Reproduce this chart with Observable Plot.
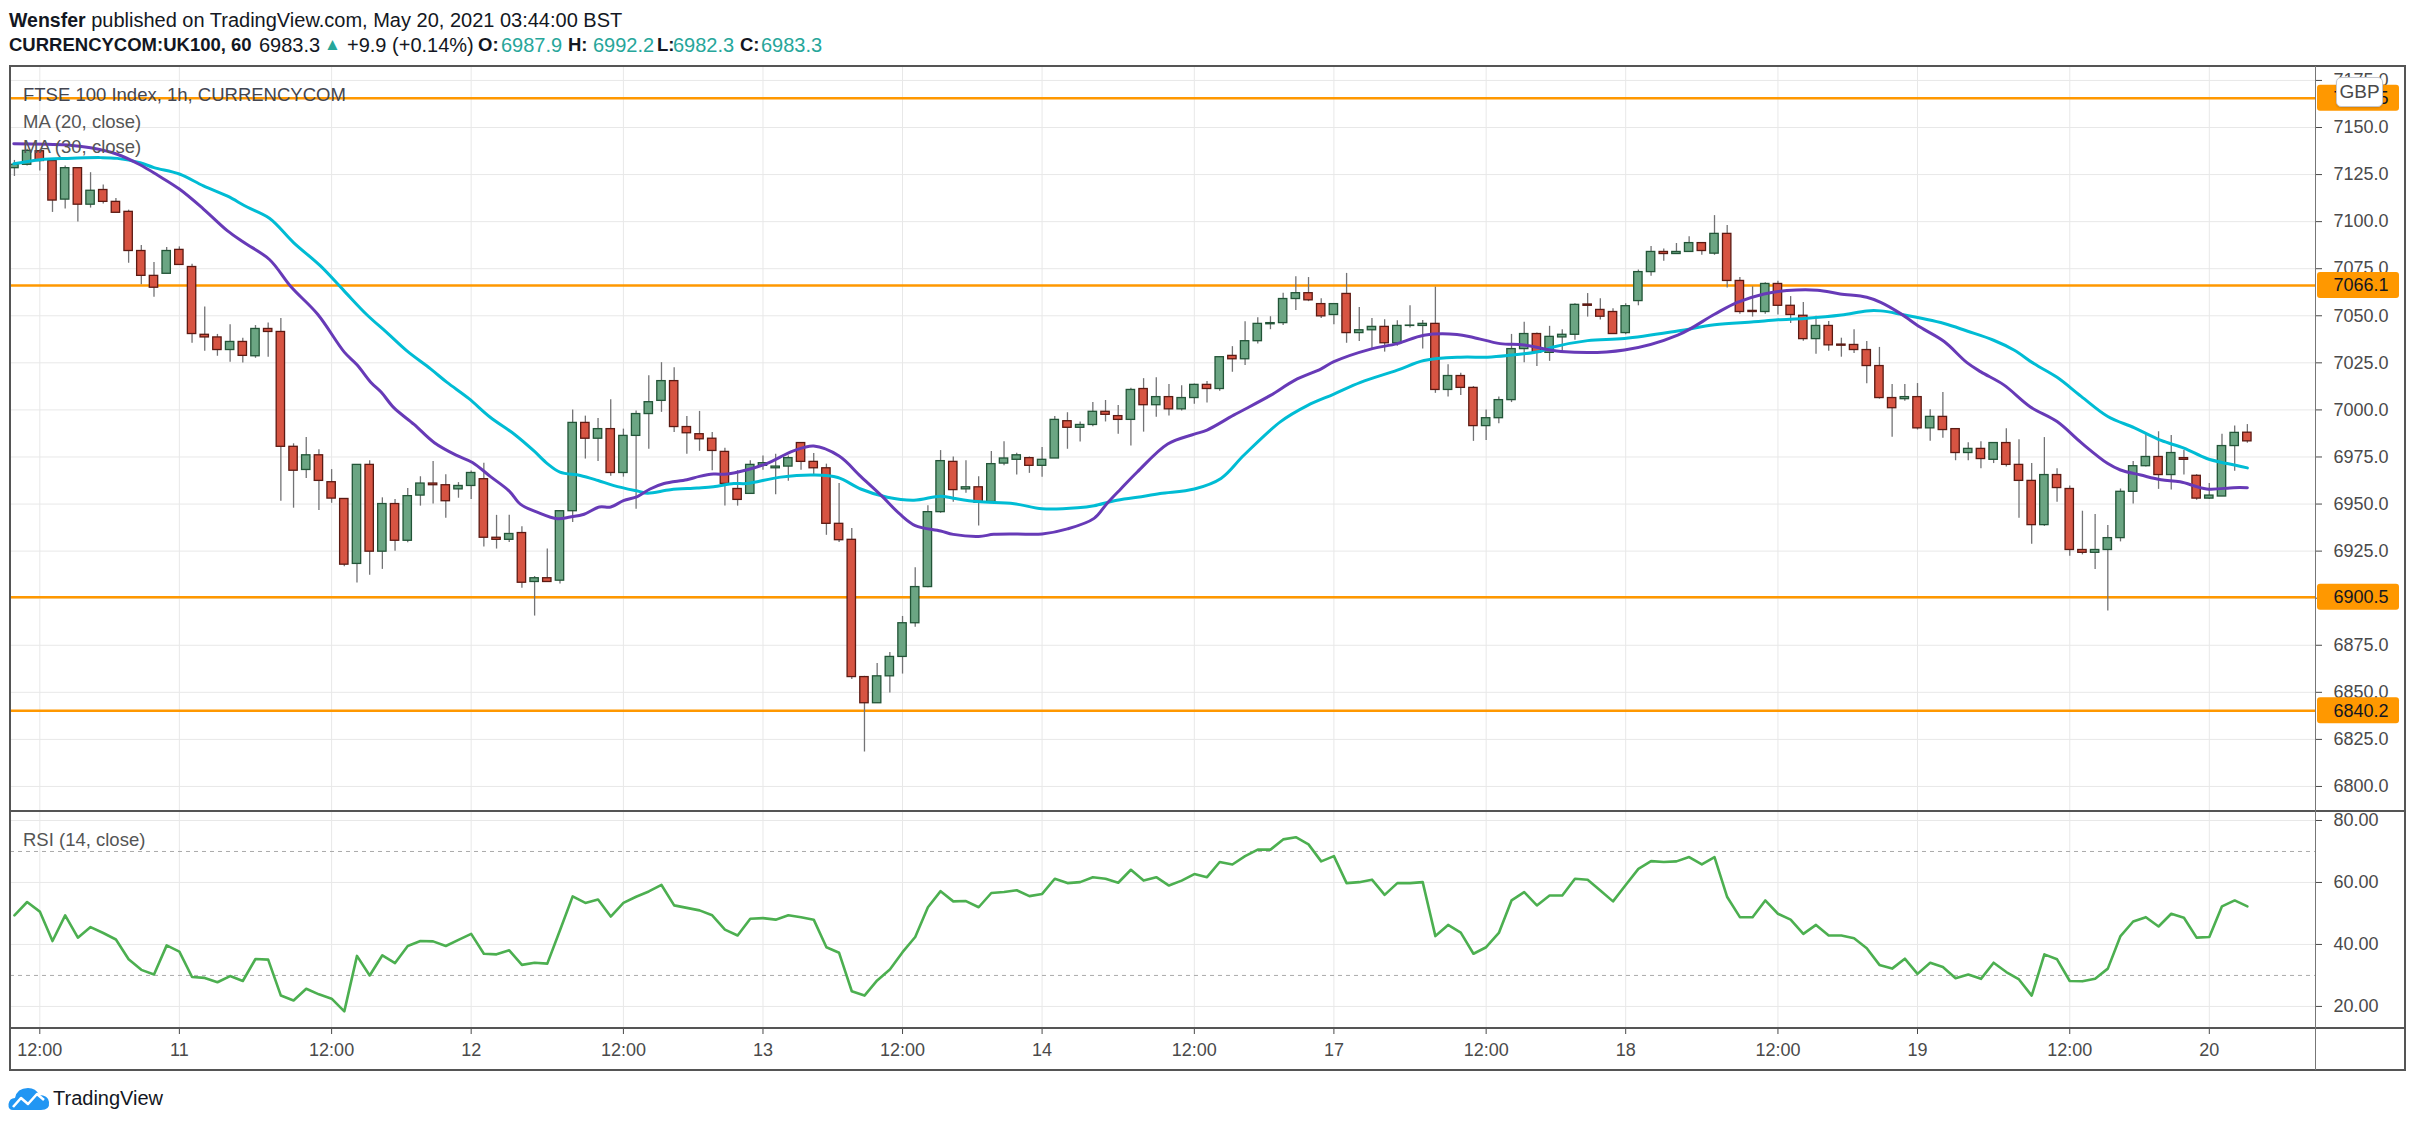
<!DOCTYPE html>
<html><head><meta charset="utf-8">
<script src="https://cdn.jsdelivr.net/npm/d3@7"></script>
<script src="https://cdn.jsdelivr.net/npm/@observablehq/plot@0.6"></script>
<style>
html,body{margin:0;padding:0;background:#fff;}
body{width:2415px;height:1128px;position:relative;overflow:hidden;font-family:"Liberation Sans",Arial,sans-serif;color:#131722;}
.abs{position:absolute;white-space:nowrap;}
#hdr1{left:9px;top:7px;font-size:20px;line-height:26px;}
#hdr1 b{font-size:19.5px;}
.h2{top:32px;font-size:20px;line-height:26px;}
.h2b{font-weight:bold;font-size:18.5px;}
.tl{color:#26a69a;}
.lg{font-size:18.5px;line-height:24px;color:#555;left:23px;}
#gbp{left:2336px;top:77px;width:45px;height:28px;border:1px solid #c3c6ce;border-radius:5px;background:#fff;font-size:19px;line-height:28px;text-align:center;color:#4a4a4a;box-shadow:0 1px 2px rgba(0,0,0,0.15);}
#main{left:10px;top:66px;}
#rsi{left:10px;top:811px;}
.ln{position:absolute;background:#555;}
</style></head>
<body>
<div id="hdr1" class="abs"><b>Wensfer</b> published on TradingView.com, May 20, 2021 03:44:00 BST</div>
<div class="abs h2 h2b" style="left:9px;">CURRENCYCOM:UK100, 60</div>
<div class="abs h2" style="left:259px;">6983.3</div>
<div class="abs h2 tl" style="left:324px;font-size:17px;">&#9650;</div>
<div class="abs h2" style="left:347px;">+9.9 (+0.14%)</div>
<div class="abs h2 h2b" style="left:478px;">O:</div>
<div class="abs h2 tl" style="left:501px;">6987.9</div>
<div class="abs h2 h2b" style="left:568px;">H:</div>
<div class="abs h2 tl" style="left:593px;">6992.2</div>
<div class="abs h2 h2b" style="left:657px;">L:</div>
<div class="abs h2 tl" style="left:673px;">6982.3</div>
<div class="abs h2 h2b" style="left:740px;">C:</div>
<div class="abs h2 tl" style="left:761px;">6983.3</div>
<div id="main" class="abs"></div>
<div id="rsi" class="abs"></div>
<div class="abs lg" style="top:83px;color:#434651">FTSE 100 Index, 1h, CURRENCYCOM</div>
<div class="abs lg" style="top:110px">MA (20, close)</div>
<div class="abs lg" style="top:135px">MA (30, close)</div>
<div class="abs lg" style="top:828px">RSI (14, close)</div>
<div id="gbp" class="abs">GBP</div>
<!-- frame lines -->
<div class="ln" style="left:9px;top:65px;width:2397px;height:2px;"></div>
<div class="ln" style="left:9px;top:1069px;width:2397px;height:2px;"></div>
<div class="ln" style="left:9px;top:65px;width:2px;height:1006px;"></div>
<div class="ln" style="left:2404px;top:65px;width:2px;height:1006px;"></div>
<div class="ln" style="left:10px;top:810px;width:2395px;height:2px;"></div>
<div class="ln" style="left:10px;top:1027px;width:2395px;height:1.5px;"></div>
<div class="ln" style="left:2315px;top:66px;width:1px;height:1004px;background:#777;"></div>
<div class="abs" style="left:8px;top:1087px;">
<svg width="42" height="24" viewBox="0 0 42 24"><path d="M5 23 Q0 23 0.5 17 Q1.5 11 7 11 Q9 1 20 1 Q28 1 31 8 Q40 8 41 15 Q42 23 33 23 Z" fill="#2196F3"/><polyline points="5,20 13,11 20,17 29,7 36,13" fill="none" stroke="#fff" stroke-width="2.6" stroke-linejoin="round"/></svg>
</div>
<div class="abs" style="left:53px;top:1085px;font-size:20px;line-height:26px;color:#131722;">TradingView</div>
<script>
// ---- data ----
const firstBar = -2; // first visible hourly bar (May 10, 10:00); bar 0 = May 10, 12:00
const open = [7128.4,7130.2,7137.4,7132.2,7111.7,7128.4,7109.0,7116.8,7110.5,7105.2,
7084.4,7071.2,7072.3,7085.0,7075.9,7039.9,7038.5,7031.8,7036.1,7028.5,
7043.0,7041.4,6980.4,6968.1,6975.9,6961.6,6952.7,6918.2,6970.8,6924.7,
6950.0,6930.5,6954.5,6960.9,6960.0,6957.8,6959.6,6963.2,6932.1,6931.0,
6934.6,6908.6,6910.6,6909.3,6946.2,6993.1,6984.7,6989.8,6966.5,6986.2,
6997.8,7004.8,7015.3,6990.9,6987.1,6984.7,6977.7,6958.0,6955.4,6970.3,
6969.0,6969.9,6982.4,6972.4,6969.0,6939.5,6931.0,6858.1,6844.2,6858.5,
6868.8,6886.7,6905.9,6945.7,6972.4,6957.8,6958.9,6951.1,6971.5,6973.5,
6974.4,6970.3,6974.2,6994.0,6990.5,6992.0,6999.0,6996.7,6994.7,7011.1,
7002.5,7006.8,7000.3,7006.3,7013.3,7011.1,7028.7,7026.9,7036.5,7045.5,
7046.1,7058.9,7062.0,7056.2,7050.4,7061.6,7040.8,7042.3,7044.1,7035.4,
7044.6,7044.6,7045.7,7010.6,7018.0,7011.7,6991.4,6995.6,7005.2,7032.3,
7040.3,7030.3,7038.5,7039.9,7056.0,7053.1,7052.0,7040.8,7057.8,7073.2,
7083.9,7082.8,7083.9,7088.6,7083.0,7093.5,7068.5,7052.6,7052.0,7066.9,
7055.3,7050.0,7037.6,7044.6,7034.7,7034.5,7031.8,7023.3,7006.3,7005.7,
7006.8,6990.2,6996.3,6989.8,6977.1,6979.3,6973.5,6982.4,6970.8,6962.3,
6938.8,6965.4,6958.0,6925.6,6924.1,6925.6,6931.9,6956.5,6970.1,6975.0,
6965.4,6974.4,6965.0,6952.9,6954.0,6980.8,6987.9];
const high = [7132.5,7138.5,7138.0,7133.5,7129.5,7128.4,7126.0,7119.5,7112.3,7106.1,
7087.3,7078.3,7086.2,7086.6,7077.4,7054.6,7040.1,7045.2,7038.1,7044.8,
7046.1,7048.6,6982.0,6985.3,6978.8,6968.3,6952.7,6970.8,6973.0,6953.3,
6952.4,6958.3,6964.5,6972.6,6965.6,6961.4,6967.5,6971.7,6944.0,6944.0,
6937.9,6911.5,6926.1,6946.2,6999.9,6996.7,6995.4,7005.4,6989.8,6999.4,
7018.2,7025.1,7022.4,6996.5,6999.2,6988.0,6979.7,6967.7,6973.0,6975.5,
6976.4,6975.5,6982.4,6976.8,6971.2,6960.9,6937.0,6858.5,6865.3,6871.1,
6890.3,6916.2,6949.1,6978.4,6975.0,6973.0,6964.5,6977.9,6983.1,6977.0,
6975.0,6980.0,6996.5,6998.5,6993.6,7003.9,7005.0,7002.3,7011.5,7016.6,
7017.1,7013.5,7012.8,7013.7,7015.1,7028.0,7033.6,7046.8,7049.0,7049.5,
7062.0,7070.7,7070.3,7059.1,7056.2,7072.5,7054.4,7048.6,7047.9,7047.3,
7055.3,7047.5,7065.2,7024.0,7019.5,7012.4,6999.9,7006.8,7040.1,7046.6,
7040.8,7044.4,7042.6,7056.4,7061.8,7059.1,7053.7,7056.4,7074.3,7086.8,
7085.5,7088.4,7092.0,7088.6,7103.2,7098.0,7070.3,7065.4,7067.6,7068.3,
7060.2,7057.1,7049.7,7047.0,7038.1,7042.6,7036.3,7033.2,7013.5,7013.5,
7014.0,7000.1,7009.3,6989.8,6982.6,6983.1,6982.4,6990.0,6984.2,6971.5,
6985.3,6968.8,6959.6,6946.2,6944.4,6938.6,6958.0,6972.6,6987.1,6988.4,
6986.4,6978.4,6965.6,6960.9,6987.1,6991.4,6992.2];
const low = [7124.0,7129.5,7126.9,7104.9,7106.7,7099.8,7107.2,7109.4,7104.7,7077.9,
7066.5,7059.8,7072.3,7077.0,7035.4,7031.2,7028.5,7025.3,7024.9,7027.4,
7028.0,6951.5,6947.8,6963.6,6946.6,6950.4,6916.7,6908.0,6912.2,6915.3,
6924.9,6929.4,6948.9,6950.0,6942.4,6953.1,6952.4,6927.2,6926.1,6929.6,
6905.3,6890.5,6908.6,6907.5,6940.2,6973.9,6972.6,6964.7,6964.3,6947.3,
6979.1,6998.7,6988.0,6976.4,6978.0,6967.7,6948.9,6948.9,6955.4,6967.9,
6954.9,6962.1,6967.9,6965.4,6933.4,6929.6,6856.8,6818.3,6844.2,6849.6,
6859.7,6884.5,6905.5,6945.1,6950.9,6955.8,6938.4,6951.1,6970.3,6965.4,
6966.3,6964.3,6974.2,6979.1,6982.9,6991.1,6993.6,6987.1,6980.8,6988.2,
6996.1,6996.7,6999.4,7003.0,7003.7,7009.9,7020.0,7023.6,7035.0,7042.6,
7044.8,7052.8,7057.5,7048.6,7045.2,7035.4,7036.3,7032.5,7030.7,7033.8,
7043.5,7032.3,7008.8,7006.8,7007.7,6983.3,6983.8,6992.7,7003.9,7025.1,
7023.1,7025.8,7030.3,7037.0,7049.3,7047.7,7040.3,7039.9,7055.3,7071.0,
7079.0,7082.8,7083.9,7082.1,7082.1,7064.7,7050.8,7049.3,7050.8,7050.4,
7045.9,7036.5,7029.6,7031.2,7028.0,7030.0,7013.9,7005.7,6985.5,7004.6,
6989.3,6983.3,6984.9,6973.0,6973.0,6968.8,6971.5,6969.7,6942.4,6928.7,
6938.1,6950.9,6922.3,6923.0,6915.3,6893.2,6929.9,6950.0,6969.7,6957.8,
6957.4,6965.4,6952.0,6952.4,6954.0,6967.4,6982.3];
const close = [7130.2,7137.6,7132.2,7111.2,7128.4,7109.0,7116.4,7110.5,7104.7,7084.4,
7071.2,7064.9,7084.4,7077.0,7040.3,7038.5,7031.8,7036.1,7028.7,7043.0,
7041.4,6980.4,6967.7,6975.9,6962.3,6952.9,6917.8,6970.8,6924.7,6950.0,
6930.5,6954.2,6960.9,6960.0,6951.5,6959.6,6966.5,6932.1,6931.0,6934.1,
6908.2,6910.6,6908.6,6946.2,6993.1,6984.7,6989.8,6966.5,6986.2,6997.8,
7004.1,7015.3,6990.9,6987.6,6984.4,6978.2,6960.7,6952.2,6970.8,6971.7,
6969.9,6974.4,6972.4,6969.0,6939.5,6930.8,6858.1,6844.2,6858.5,6868.8,
6886.7,6905.9,6945.7,6972.8,6957.4,6958.9,6950.7,6971.2,6974.2,6975.9,
6970.3,6973.5,6994.7,6990.5,6992.0,6999.0,6997.4,6994.7,7010.6,7002.5,
7006.8,7000.3,7006.3,7013.3,7011.1,7028.0,7026.9,7036.5,7045.7,7046.1,
7058.9,7062.0,7058.2,7049.7,7056.2,7040.8,7042.3,7044.1,7035.4,7044.6,
7044.8,7045.7,7010.6,7018.0,7011.7,6991.4,6995.6,7005.2,7032.3,7040.3,
7030.3,7038.8,7039.9,7055.8,7055.3,7049.5,7040.3,7055.1,7073.2,7083.9,
7082.8,7083.9,7088.6,7084.4,7093.5,7068.5,7052.0,7052.0,7066.9,7055.3,
7050.4,7037.6,7044.6,7034.3,7034.1,7031.8,7023.3,7006.3,7000.9,7006.8,
6990.2,6996.3,6989.3,6977.1,6979.3,6973.9,6982.4,6970.8,6962.3,6938.8,
6965.4,6958.5,6925.6,6924.1,6925.6,6931.9,6956.5,6970.1,6975.0,6965.4,
6977.1,6973.5,6952.9,6954.5,6980.8,6987.8,6983.3];

// moving averages at sample bars
const ma20Bar = [-2.05,2.16,4.0,6.1,7.9,9.3,11.0,12.9,14.8,16.1,18.1,19.8,21.9,24.0,25.0,26.1,26.9,27.9,29.5,31.1,32.9,34.1,35.5,37.0,37.9,39.2,40.8,41.8,42.9,44.1,45.0,46.0,47.1,48.1,49.2,51.0,52.0,53.1,54.2,55.7,57.3,59.4,61.0,63.0,64.7,66.3,67.8,69.0,71.0,72.0,74.0,75.2,77.0,79.0,81.0,83.1,84.1,85.2,86.5,88.9,91.0,92.0,94.1,97.0,98.9,101.0,102.0,104.9,107.0,109.1,111.7,113.0,115.1,117.0,119.9,124.9,129.1,132.0,133.8,135.9,137.7,140.1,141.9,144.0,145.1,146.7,148.2,150.1,151.9,153.0,154.8,156.9,159.0,160.9,163.0,164.0,165.6,167.2,168.7,170.8,172.9,174.0];
const ma20Val = [7141.4,7140.7,7139.2,7135.8,7130.2,7124.6,7117.3,7106.7,7095.1,7088.9,7079.9,7065.4,7050.8,7030.7,7024.0,7014.6,7009.5,7001.2,6992.3,6982.6,6975.7,6972.1,6964.7,6956.9,6949.8,6945.7,6942.2,6943.1,6944.6,6948.4,6948.4,6951.8,6954.0,6958.0,6960.9,6962.9,6964.7,6965.9,6965.9,6968.1,6971.5,6978.2,6980.8,6975.5,6964.7,6954.7,6944.6,6938.6,6935.7,6933.9,6932.8,6933.9,6934.1,6934.1,6936.8,6942.4,6950.2,6958.0,6967.0,6981.9,6987.1,6989.3,6997.2,7007.7,7015.7,7021.8,7025.6,7032.3,7035.2,7039.7,7040.1,7038.5,7035.2,7034.5,7031.0,7031.8,7039.7,7050.8,7057.1,7061.6,7063.4,7063.6,7061.6,7059.8,7057.1,7051.0,7044.0,7036.3,7025.1,7020.2,7013.3,7001.6,6993.8,6982.6,6971.5,6968.1,6965.4,6962.9,6961.8,6958.0,6958.7,6958.7];
const ma30Bar = [-2.05,0.05,2.16,4.8,6.1,7.9,9.0,11.0,12.9,14.8,16.3,18.1,20.0,22.1,24.0,25.8,27.4,28.96,30.8,32.1,33.8,35.5,37.4,38.95,40.0,41.0,42.6,44.0,45.25,47.1,47.9,49.7,51.8,53.1,54.7,55.7,58.4,61.0,62.9,64.7,66.8,68.9,71.0,72.0,73.9,76.8,79.0,81.8,83.1,84.7,86.5,88.3,91.0,93.1,94.9,97.8,99.9,102.0,104.1,107.0,109.1,112.0,114.1,115.7,118.3,119.3,122.0,124.9,129.1,132.0,135.1,137.0,139.1,142.0,144.0,145.1,146.7,150.1,151.9,154.0,155.6,157.2,159.0,160.9,163.0,165.1,167.2,169.0,170.8,172.4,174.0];
const ma30Val = [7130.7,7132.9,7133.6,7134.0,7133.6,7131.3,7128.7,7125.3,7119.0,7113.5,7107.9,7101.8,7088.9,7076.6,7063.1,7050.4,7040.8,7031.2,7021.8,7014.6,7006.1,6996.1,6987.1,6978.2,6971.5,6967.0,6965.2,6962.5,6959.8,6956.9,6955.8,6957.6,6958.5,6959.2,6960.9,6960.9,6964.3,6965.4,6964.1,6958.0,6953.6,6952.0,6954.2,6953.1,6951.3,6950.2,6947.5,6948.0,6949.1,6951.8,6953.6,6955.6,6958.0,6963.6,6975.9,6993.8,7002.3,7008.4,7014.6,7021.1,7026.2,7028.0,7028.0,7028.9,7031.2,7033.4,7036.8,7037.9,7041.9,7045.2,7046.8,7047.9,7048.6,7050.4,7052.6,7052.6,7050.8,7045.9,7041.9,7037.0,7031.8,7024.5,7017.3,7007.2,6996.5,6990.5,6983.8,6979.7,6974.2,6971.5,6969.2];

// RSI(14), one value per bar from firstBar
const rsi = [49.4,53.7,50.6,41.1,49.4,42.2,45.6,43.7,41.6,35.2,31.8,30.3,39.7,37.7,29.5,29.2,27.8,29.8,28.2,35.3,
35.1,23.5,21.9,25.7,23.9,22.5,18.4,36.3,30.0,36.5,34.0,39.5,41.1,41.0,39.5,41.5,43.4,37.0,36.8,38.1,
33.4,34.1,33.8,44.6,55.5,53.4,54.5,49.0,53.4,55.4,57.1,59.2,52.6,51.8,51.0,49.4,44.8,42.9,48.3,48.5,
48.0,49.4,48.8,48.0,39.1,37.3,24.9,23.5,28.4,31.9,37.5,42.4,52.0,57.2,53.9,54.0,52.0,56.6,56.9,57.5,
55.6,56.3,61.2,59.8,60.1,61.7,61.2,59.9,64.1,60.6,61.7,59.0,60.6,62.7,61.7,66.6,65.8,68.5,70.6,70.6,
73.9,74.6,72.3,66.8,68.5,59.8,60.1,60.9,56.0,59.8,59.8,60.1,42.7,46.3,43.8,37.0,39.1,43.7,54.2,56.9,
52.6,55.8,55.8,61.2,60.9,57.4,53.9,59.2,64.4,66.9,66.6,66.8,68.2,65.8,68.2,55.3,48.8,48.8,54.2,49.9,
48.0,43.4,46.3,42.9,42.9,42.0,38.8,33.4,32.2,35.4,30.5,34.1,32.7,29.1,30.3,28.9,34.1,31.1,28.7,23.5,
36.8,35.2,28.2,28.1,28.9,32.2,42.7,47.4,48.8,45.8,49.9,48.6,42.2,42.4,52.3,54.2,52.3];

const levels = [7165.5, 7066.1, 6900.5, 6840.2];
const priceTicks = [6800,6825,6850,6875,6900,6925,6950,6975,7000,7025,7050,7075,7100,7125,7150,7175];
const rsiTicks = [20,40,60,80];
const rsiBands = [30,70];
const tickBars = [0,11,23,34,46,57,68,79,91,102,114,125,137,148,160,171];
const tickLabels = ["12:00","11","12:00","12","12:00","13","12:00","14","12:00","17","12:00","18","12:00","19","12:00","20"];

// ---- build ----
const candles = open.map((o, k) => ({i: firstBar + k, open: o, high: high[k], low: low[k], close: close[k]}));
const ma20 = ma20Bar.map((b, k) => ({i: b, v: ma20Val[k]}));
const ma30 = ma30Bar.map((b, k) => ({i: b, v: ma30Val[k]}));
const rsiData = rsi.map((v, k) => ({i: firstBar + k, v}));

const frameW = 2305;
const xDomain = [-2.31, 179.37];
const pxPerBar = frameW / (xDomain[1] - xDomain[0]);
const priceDomain = [6786.7, 7182.4];
const mainH = 745;
const pxPerPt = mainH / (priceDomain[1] - priceDomain[0]);
const halfBox = 13 / pxPerPt;
const up = d => d.close >= d.open;
const style = {fontFamily: "'Liberation Sans', Arial, sans-serif", fontSize: "18px", color: "#4a4a4a", background: "transparent", overflow: "visible"};

const main = Plot.plot({
  width: 2395, height: mainH, marginLeft: 0, marginRight: 90, marginTop: 0, marginBottom: 0,
  style,
  x: {domain: xDomain, axis: null},
  y: {domain: priceDomain, axis: null},
  marks: [
    Plot.gridY(priceTicks, {stroke: "#e8e8e8", strokeOpacity: 1}),
    Plot.gridX(tickBars, {stroke: "#e8e8e8", strokeOpacity: 1}),
    Plot.ruleY(levels, {stroke: "#FF9800", strokeWidth: 2.5}),
    Plot.ruleX(candles, {x: "i", y1: "low", y2: "high", stroke: "#737375", strokeWidth: 1.3}),
    Plot.rect(candles, {x1: d => d.i - 0.33, x2: d => d.i + 0.33, y1: "open", y2: "close",
      fill: d => up(d) ? "#6BA583" : "#D75442", stroke: d => up(d) ? "#225437" : "#5B1A13", strokeWidth: 1.3}),
    Plot.line(ma30, {x: "i", y: "v", stroke: "#00BCD4", strokeWidth: 3, curve: "catmull-rom"}),
    Plot.line(ma20, {x: "i", y: "v", stroke: "#673AB7", strokeWidth: 3, curve: "catmull-rom"}),
    Plot.axisY(priceTicks, {anchor: "right", tickSize: 6, tickPadding: 12, tickFormat: d => d.toFixed(1), fontSize: 18, color: "#4a4a4a", label: null}),
    Plot.rect(levels, {x1: () => xDomain[1] + 2 / pxPerBar, x2: () => xDomain[1] + 84 / pxPerBar,
      y1: d => d - halfBox, y2: d => d + halfBox, fill: "#FF9800", rx: 3}),
    Plot.text(levels, {x: () => xDomain[1] + 18 / pxPerBar, y: d => d, text: d => d.toFixed(1), textAnchor: "start", fontSize: 18, fill: "#131722"})
  ]
});
document.getElementById("main").appendChild(main);

const rsiPlot = Plot.plot({
  width: 2395, height: 216 + 45, marginLeft: 0, marginRight: 90, marginTop: 0, marginBottom: 45,
  style,
  x: {domain: xDomain, axis: null},
  y: {domain: [13.2, 82.9], axis: null},
  marks: [
    Plot.gridY(rsiTicks, {stroke: "#e8e8e8", strokeOpacity: 1}),
    Plot.gridX(tickBars, {stroke: "#e8e8e8", strokeOpacity: 1}),
    Plot.ruleY(rsiBands, {stroke: "#aaaaaa", strokeDasharray: "4,4", strokeWidth: 1}),
    Plot.line(rsiData, {x: "i", y: "v", stroke: "#4CAF50", strokeWidth: 2.6}),
    Plot.axisY(rsiTicks, {anchor: "right", tickSize: 6, tickPadding: 12, tickFormat: d => d.toFixed(2), fontSize: 18, color: "#4a4a4a", label: null}),
    Plot.axisX(tickBars, {anchor: "bottom", tickSize: 7, tickPadding: 9, tickFormat: d => tickLabels[tickBars.indexOf(d)], fontSize: 18, color: "#4a4a4a", label: null})
  ]
});
document.getElementById("rsi").appendChild(rsiPlot);
</script>
</body></html>
